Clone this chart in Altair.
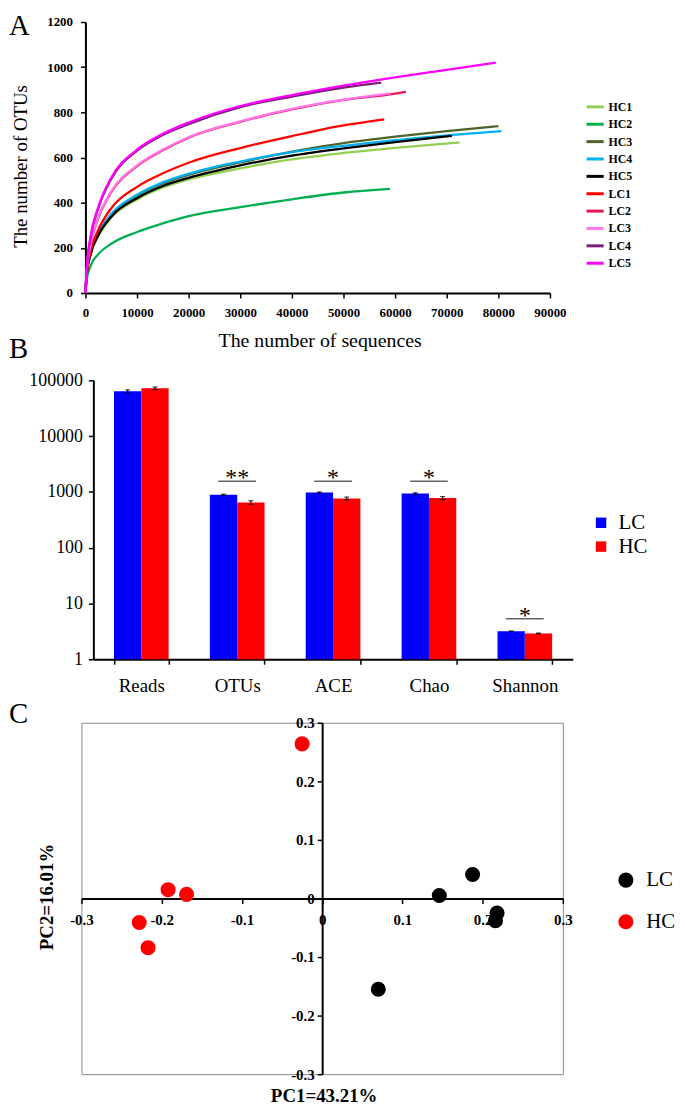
import altair as alt
import pandas as pd

FONT = "Liberation Serif"

# ---------------- Panel A: rarefaction curves ----------------
samples = ["HC1", "HC2", "HC3", "HC4", "HC5", "LC1", "LC2", "LC3", "LC4", "LC5"]
sample_colors = ["#92D050", "#00B050", "#4F6228", "#00B0F0", "#000000",
                 "#FF0000", "#E8174F", "#FF77E9", "#7A1F7A", "#FF00FF"]

hc1_seq = [0, 250, 1000, 2500, 5000, 10000, 15000, 20000, 30000, 40000, 50000, 60000, 72500]
hc1_otu = [0, 79, 170, 252, 333, 414, 467, 503, 552, 592, 620, 643, 667]
hc2_seq = [0, 250, 1000, 2500, 5000, 10000, 15000, 20000, 30000, 40000, 50000, 59000]
hc2_otu = [0, 58, 120, 172, 218, 270, 308, 340, 380, 415, 445, 461]
hc3_seq = [0, 250, 1000, 2500, 5000, 10000, 15000, 20000, 30000, 40000, 50000, 60000, 70000, 80000]
hc3_otu = [0, 80, 174, 260, 345, 430, 485, 523, 578, 626, 664, 692, 717, 739]
hc4_seq = [0, 250, 1000, 2500, 5000, 10000, 15000, 20000, 30000, 40000, 50000, 60000, 70000, 80600]
hc4_otu = [0, 82, 178, 265, 350, 435, 490, 528, 582, 624, 652, 677, 698, 717]
hc5_seq = [0, 250, 1000, 2500, 5000, 10000, 15000, 20000, 30000, 40000, 50000, 60000, 71000]
hc5_otu = [0, 80, 172, 256, 338, 420, 474, 510, 565, 608, 640, 668, 696]
lc1_seq = [0, 250, 1000, 2500, 5000, 10000, 15000, 20000, 30000, 40000, 50000, 57900]
lc1_otu = [0, 85, 185, 280, 375, 470, 530, 577, 642, 695, 742, 769]
lc2_seq = [0, 250, 1000, 2500, 5000, 10000, 15000, 20000, 30000, 40000, 50000, 60000, 62100]
lc2_otu = [0, 93, 212, 332, 446, 562, 632, 688, 758, 813, 855, 883, 892]
lc3_seq = [0, 250, 1000, 2500, 5000, 10000, 15000, 20000, 30000, 40000, 50000, 59200]
lc3_otu = [0, 95, 215, 335, 450, 565, 635, 690, 760, 815, 856, 884]
lc4_seq = [0, 250, 1000, 2500, 5000, 10000, 15000, 20000, 30000, 40000, 50000, 57300]
lc4_otu = [0, 108, 245, 375, 505, 630, 700, 748, 823, 870, 910, 932]
lc5_seq = [0, 250, 1000, 2500, 5000, 10000, 15000, 20000, 30000, 40000, 50000, 60000, 70000, 79500]
lc5_otu = [0, 110, 250, 380, 510, 635, 705, 755, 828, 876, 918, 955, 988, 1020]

a_x_ticks = [0, 10000, 20000, 30000, 40000, 50000, 60000, 70000, 80000, 90000]
a_y_ticks = [0, 200, 400, 600, 800, 1000, 1200]

curves = {
    "HC1": (hc1_seq, hc1_otu), "HC2": (hc2_seq, hc2_otu), "HC3": (hc3_seq, hc3_otu),
    "HC4": (hc4_seq, hc4_otu), "HC5": (hc5_seq, hc5_otu), "LC1": (lc1_seq, lc1_otu),
    "LC2": (lc2_seq, lc2_otu), "LC3": (lc3_seq, lc3_otu), "LC4": (lc4_seq, lc4_otu),
    "LC5": (lc5_seq, lc5_otu),
}
rows_a = []
for s in samples:
    xs, ys = curves[s]
    for xv, yv in zip(xs, ys):
        rows_a.append({"sample": s, "seq": xv, "otu": yv})
df_a = pd.DataFrame(rows_a)

# ---------------- Panel B: diversity indices ----------------
categories = ["Reads", "OTUs", "ACE", "Chao", "Shannon"]
groups_b = ["LC", "HC"]
lc_values = [63800, 885, 972, 933, 3.18]
hc_values = [72100, 646, 763, 775, 2.90]
lc_errors = [3800, 25, 25, 30, 0.03]
hc_errors = [4000, 50, 45, 50, 0.05]
b_y_ticks = [1, 10, 100, 1000, 10000, 100000]

sig_categories = ["OTUs", "ACE", "Chao", "Shannon"]
sig_levels = [1560, 1560, 1560, 5.3]
sig_marks = ["**", "*", "*", "*"]

rows_b = []
for i, c in enumerate(categories):
    rows_b.append({"cat": c, "grp": "LC", "value": lc_values[i],
                   "lo": lc_values[i] - lc_errors[i], "hi": lc_values[i] + lc_errors[i]})
    rows_b.append({"cat": c, "grp": "HC", "value": hc_values[i],
                   "lo": hc_values[i] - hc_errors[i], "hi": hc_values[i] + hc_errors[i]})
df_b = pd.DataFrame(rows_b)
df_sig = pd.DataFrame({"cat": sig_categories, "level": sig_levels, "mark": sig_marks})

# ---------------- Panel C: PCA ----------------
pc_groups = ["LC", "HC"]
lc_pc1 = [0.1875, 0.146, 0.218, 0.216, 0.070]
lc_pc2 = [0.041, 0.005, -0.025, -0.038, -0.155]
hc_pc1 = [-0.025, -0.192, -0.169, -0.228, -0.217]
hc_pc2 = [0.264, 0.015, 0.007, -0.041, -0.084]
c_ticks = [-0.3, -0.2, -0.1, 0, 0.1, 0.2, 0.3]

rows_c = [{"grp": "LC", "pc1": a, "pc2": b} for a, b in zip(lc_pc1, lc_pc2)]
rows_c += [{"grp": "HC", "pc1": a, "pc2": b} for a, b in zip(hc_pc1, hc_pc2)]
df_c = pd.DataFrame(rows_c)

# ---------------- helpers ----------------
def letter(t, dy):
    return alt.TitleParams(text=t, anchor="start", frame="group", orient="top",
                           font=FONT, fontSize=29, fontWeight="normal", color="black",
                           baseline="alphabetic", offset=0, dx=-73, dy=dy)

axis_common = dict(grid=False, domainColor="black", domainWidth=2, tickColor="black",
                   tickWidth=1.5, tickSize=5, labelColor="black", labelFont=FONT,
                   titleColor="black", titleFont=FONT, labelFlush=False)

# ---------------- Chart A ----------------
chart_a = alt.Chart(df_a).mark_line(strokeWidth=2.3, interpolate="monotone").encode(
    x=alt.X("seq:Q",
            scale=alt.Scale(domain=[0, 90000], range=[4, 472], nice=False, zero=False),
            axis=alt.Axis(title="The number of sequences", values=a_x_ticks, format="d",
                          labelFontWeight="bold", labelFontSize=13, labelPadding=9,
                          titleFontSize=20, titleFontWeight="normal",
                          titleX=240, titleY=54, titleAlign="center",
                          titleBaseline="alphabetic", **axis_common)),
    y=alt.Y("otu:Q",
            scale=alt.Scale(domain=[0, 1200], nice=False),
            axis=alt.Axis(title="The number of OTUs", values=a_y_ticks, format="d",
                          offset=-4, labelFontWeight="bold", labelFontSize=13,
                          labelPadding=8, titleFontSize=19, titleFontWeight="normal",
                          titleX=-59, titleY=145, titleAngle=270, titleAlign="center",
                          titleBaseline="alphabetic", **axis_common)),
    color=alt.Color("sample:N", sort=samples,
                    scale=alt.Scale(domain=samples, range=sample_colors),
                    legend=alt.Legend(title=None, orient="none", legendX=507, legendY=75,
                                      symbolType="stroke", symbolSize=300,
                                      symbolStrokeWidth=3, labelFont=FONT,
                                      labelFontWeight="bold", labelFontSize=12,
                                      labelColor="black", labelOffset=3, rowPadding=0.5,
                                      padding=0)),
).properties(width=472, height=273, title=letter("A", 48))

# ---------------- Chart B ----------------
x_b = alt.X("cat:N", sort=categories,
            scale=alt.Scale(domain=categories, range=[12, 495],
                            paddingInner=0.43, paddingOuter=0.215),
            axis=alt.Axis(title=None, labelAngle=0, tickBand="extent",
                          labelFontSize=19, labelPadding=12, **axis_common))
xo_b = alt.XOffset("grp:N", sort=groups_b,
                   scale=alt.Scale(domain=groups_b, paddingInner=0, paddingOuter=0))
y_scale_b = alt.Scale(type="log", domain=[1, 100000], range=[305, 24], nice=False)

bars = alt.Chart(df_b).mark_bar().encode(
    x=x_b, xOffset=xo_b,
    y=alt.Y("value:Q", scale=y_scale_b,
            axis=alt.Axis(title=None, values=b_y_ticks, format="d", offset=-12,
                          labelFontSize=18, labelPadding=6, **axis_common)),
    y2=alt.datum(1),
    color=alt.Color("grp:N", sort=groups_b,
                    scale=alt.Scale(domain=groups_b, range=["#0000FF", "#FF0000"]),
                    legend=alt.Legend(title=None, orient="none", legendX=513, legendY=157,
                                      symbolType="square", symbolSize=110,
                                      symbolStrokeWidth=0, labelFont=FONT,
                                      labelFontSize=21, labelColor="black",
                                      labelOffset=7, rowPadding=2, padding=0)),
)
err_rule = alt.Chart(df_b).mark_rule(color="black", strokeWidth=1.2).encode(
    x=x_b, xOffset=xo_b, y=alt.Y("lo:Q", scale=y_scale_b), y2="hi:Q")
cap_lo = alt.Chart(df_b).mark_tick(color="black", thickness=1.2, size=5).encode(
    x=x_b, xOffset=xo_b, y=alt.Y("lo:Q", scale=y_scale_b))
cap_hi = alt.Chart(df_b).mark_tick(color="black", thickness=1.2, size=5).encode(
    x=x_b, xOffset=xo_b, y=alt.Y("hi:Q", scale=y_scale_b))
sig_line = alt.Chart(df_sig).mark_tick(color="#222222", thickness=1.5, size=38).encode(
    x=x_b, y=alt.Y("level:Q", scale=y_scale_b))
sig_text = alt.Chart(df_sig).mark_text(font=FONT, fontSize=24, color="black",
                                       baseline="alphabetic", dy=4).encode(
    x=x_b, y=alt.Y("level:Q", scale=y_scale_b), text="mark:N")

chart_b = alt.layer(bars, err_rule, cap_lo, cap_hi, sig_line, sig_text).properties(
    width=495, height=305, title=letter("B", 30))

# ---------------- Chart C ----------------
chart_c = alt.Chart(df_c).mark_circle(size=230, opacity=1).encode(
    x=alt.X("pc1:Q", scale=alt.Scale(domain=[-0.3, 0.3], nice=False, zero=False),
            axis=alt.Axis(title="PC1=43.21%", values=c_ticks, labelExpr="'' + datum.value",
                          offset=-177, labelFontWeight="bold", labelFontSize=15,
                          labelPadding=9, titleFontSize=19, titleFontWeight="bold",
                          titleX=244, titleY=205, titleAlign="center",
                          titleBaseline="alphabetic", **axis_common)),
    y=alt.Y("pc2:Q", scale=alt.Scale(domain=[-0.3, 0.3], nice=False, zero=False),
            axis=alt.Axis(title="PC2=16.01%", values=c_ticks, labelExpr="'' + datum.value",
                          offset=-242.5, labelFontWeight="bold", labelFontSize=15,
                          labelPadding=3, titleFontSize=19, titleFontWeight="bold",
                          titleX=-271.5, titleY=175, titleAngle=270, titleAlign="center",
                          titleBaseline="alphabetic", **axis_common)),
    color=alt.Color("grp:N", sort=pc_groups,
                    scale=alt.Scale(domain=pc_groups, range=["#000000", "#FF0000"]),
                    legend=alt.Legend(title=None, orient="none", legendX=538, legendY=148,
                                      symbolType="circle", symbolSize=230,
                                      symbolStrokeWidth=0, labelFont=FONT,
                                      labelFontSize=21, labelColor="black",
                                      labelOffset=10, rowPadding=20, padding=0)),
).properties(width=485, height=354, title=letter("C", 36),
             view=alt.ViewBackground(stroke="#8a8a8a", strokeWidth=1))

chart = alt.vconcat(chart_a, chart_b, chart_c, spacing=64, bounds="flush").resolve_scale(
    x="independent", y="independent", color="independent"
).configure(font=FONT).configure_view(strokeWidth=0).properties(padding=0)

chart.save("out.html", embed_options={"renderer": "svg", "actions": False})
